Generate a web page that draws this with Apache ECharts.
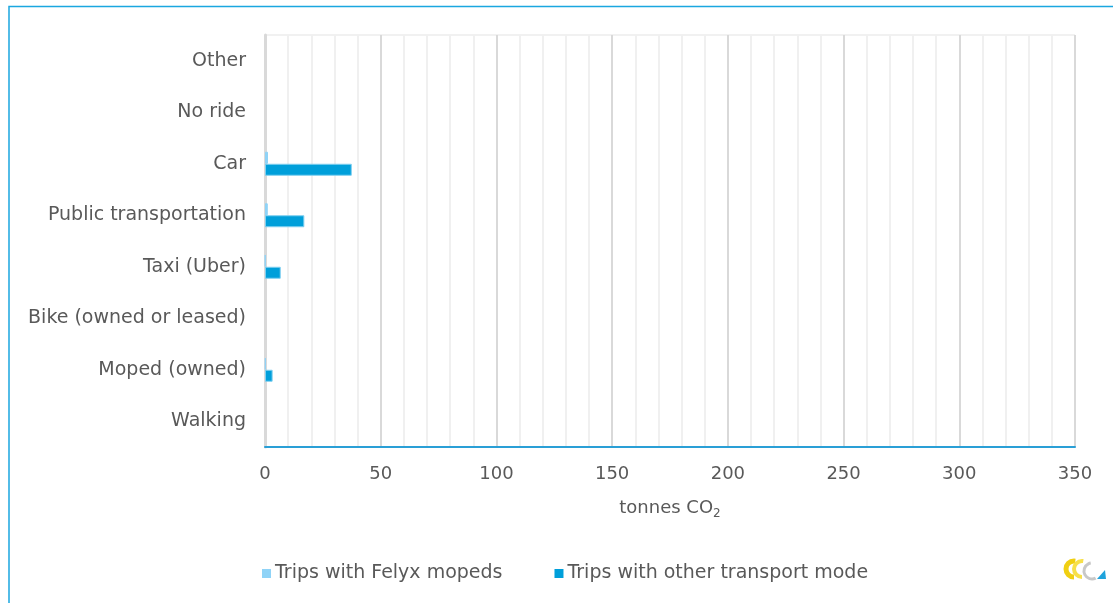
<!DOCTYPE html>
<html>
<head>
<meta charset="utf-8">
<script src="https://cdn.jsdelivr.net/npm/echarts@6/dist/echarts.min.js"></script>
<style>
  html, body { margin: 0; padding: 0; background: #fff; }
  #chart { width: 1113px; height: 603px; }
</style>
</head>
<body>
<div id="chart"></div>
<script>
// Transport modes, listed top to bottom
const categories = ['Other', 'No ride', 'Car', 'Public transportation', 'Taxi (Uber)', 'Bike (owned or leased)', 'Moped (owned)', 'Walking'];
// Emissions in tonnes CO2
const felyxTrips = [0, 0, 1.3, 1.2, 0.2, 0, 0.3, 0];
const otherModeTrips = [0, 0, 37.5, 17.0, 6.8, 0, 3.3, 0];
const seriesNames = ['Trips with Felyx mopeds', 'Trips with other transport mode'];
const xTicks = { min: 0, max: 350, interval: 50 };

const FONT = '"DejaVu Sans", sans-serif';
const TEXT = '#595959';

// zero values get no outline so nothing shows on the axis
function withOutline(values) {
  return values.map(v => v === 0 ? { value: v, itemStyle: { borderWidth: 0 } } : v);
}

const chart = echarts.init(document.getElementById('chart'));
chart.setOption({
  animation: false,
  textStyle: { fontFamily: FONT },
  grid: { left: 265, right: 38, top: 35, bottom: 156, show: true, borderColor: '#e3e3e3', borderWidth: 1 },
  legend: {
    left: 257, top: 559,
    itemWidth: 9, itemHeight: 9, itemGap: 52,
    icon: 'rect',
    itemStyle: { borderWidth: 0 },
    textStyle: { color: TEXT, fontSize: 19, fontFamily: FONT, padding: [0, 0, 0, -1] },
    data: seriesNames
  },
  xAxis: {
    type: 'value',
    min: xTicks.min, max: xTicks.max, interval: xTicks.interval,
    name: '{t|tonnes CO}{s|2}',
    nameLocation: 'middle',
    nameGap: 49,
    nameTextStyle: {
      rich: {
        t: { color: TEXT, fontSize: 18, fontFamily: FONT },
        s: { color: TEXT, fontSize: 12, fontFamily: FONT, verticalAlign: 'bottom', padding: [12, 0, 0, 0] }
      }
    },
    axisLine: { show: true, lineStyle: { color: '#2a9fd6', width: 2 } },
    axisTick: { show: false },
    axisLabel: { color: TEXT, fontSize: 18, margin: 18 },
    splitLine: { show: true, lineStyle: { color: '#d9d9d9', width: 2 } },
    minorTick: { show: false, splitNumber: 5 },
    minorSplitLine: { show: true, lineStyle: { color: '#f0f0f0', width: 2 } }
  },
  yAxis: {
    type: 'category',
    data: categories,
    inverse: true,
    axisLine: { show: true, lineStyle: { color: '#d9d9d9', width: 3 } },
    axisTick: { show: false },
    axisLabel: { color: TEXT, fontSize: 19, margin: 19 }
  },
  series: [
    {
      name: seriesNames[0], type: 'bar', data: withOutline(felyxTrips),
      barWidth: 12, barGap: '0%', z: 5,
      itemStyle: { color: '#8fd3f7', borderColor: '#8fd3f7', borderWidth: 1 }
    },
    {
      name: seriesNames[1], type: 'bar', data: withOutline(otherModeTrips),
      barWidth: 12, barGap: '0%', z: 5,
      itemStyle: { color: '#009fda', borderColor: '#7fcff0', borderWidth: 1 }
    }
  ],
  graphic: [
    // outer frame: top and left edges
    { type: 'polyline', shape: { points: [[9, 603], [9, 6.5], [1113, 6.5]] }, style: { stroke: '#1ba7e0', lineWidth: 1.5, fill: null } },
    // brand mark, bottom right: two yellow loops, a grey loop and a blue tip
    { type: 'arc', shape: { cx: 1074, cy: 569, r: 8, startAngle: Math.PI * 0.5, endAngle: Math.PI * 1.55 }, style: { stroke: '#f0cf12', lineWidth: 5, fill: null } },
    { type: 'arc', shape: { cx: 1082, cy: 569, r: 8, startAngle: Math.PI * 0.5, endAngle: Math.PI * 1.55 }, style: { stroke: '#f7e04a', lineWidth: 4, fill: null } },
    { type: 'arc', shape: { cx: 1092, cy: 571, r: 8, startAngle: Math.PI * 0.35, endAngle: Math.PI * 1.45 }, style: { stroke: '#c8c8c8', lineWidth: 3, fill: null } },
    { type: 'polygon', shape: { points: [[1097, 579], [1106, 579], [1105, 570]] }, style: { fill: '#1fa3dc' } }
  ]
});
</script>
</body>
</html>
